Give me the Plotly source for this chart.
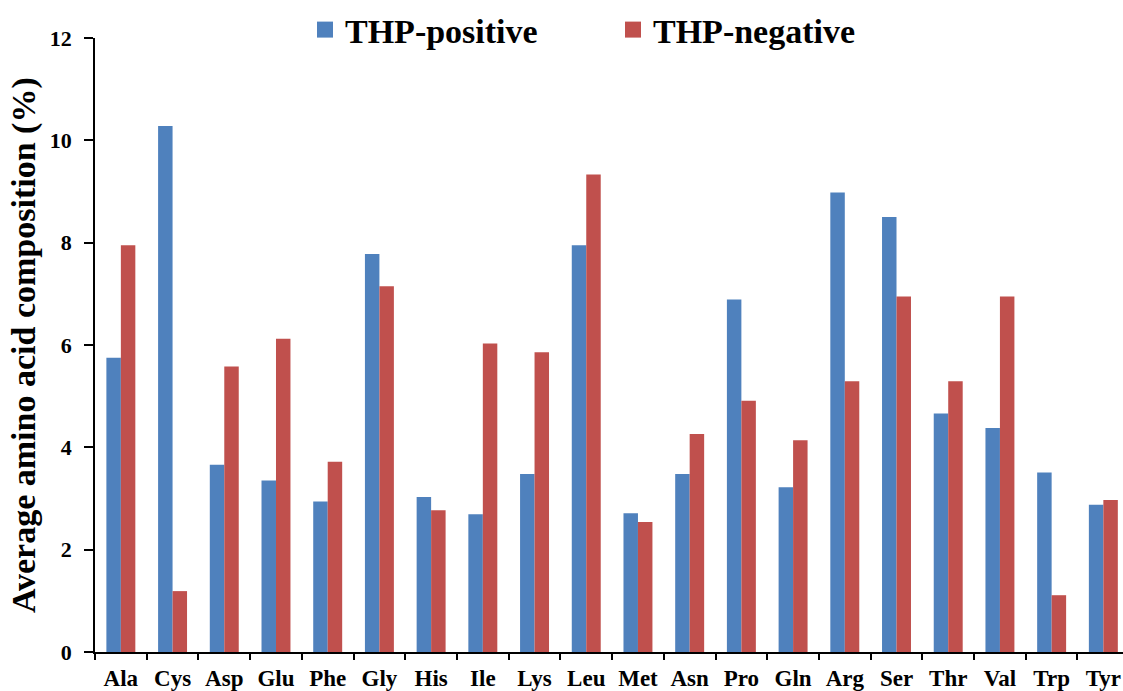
import plotly.graph_objects as go

amino_acids = ["Ala", "Cys", "Asp", "Glu", "Phe", "Gly", "His", "Ile", "Lys", "Leu",
               "Met", "Asn", "Pro", "Gln", "Arg", "Ser", "Thr", "Val", "Trp", "Tyr"]
thp_positive = [5.75, 10.28, 3.66, 3.35, 2.94, 7.78, 3.03, 2.69, 3.48, 7.95,
                2.71, 3.48, 6.89, 3.22, 8.98, 8.50, 4.66, 4.38, 3.51, 2.88]
thp_negative = [7.95, 1.19, 5.58, 6.12, 3.72, 7.15, 2.77, 6.03, 5.86, 9.33,
                2.54, 4.26, 4.91, 4.14, 5.29, 6.95, 5.29, 6.95, 1.11, 2.97]
y_ticks = [0, 2, 4, 6, 8, 10, 12]
y_title = "Average amino acid composition (%)"

BLUE = "#4F81BD"
RED = "#C0504D"
FONT = "Liberation Serif"

W, H = 1123, 691
ML, MR, MT, MB = 95, 0, 38, 39

fig = go.Figure()
fig.add_trace(go.Bar(x=amino_acids, y=thp_positive, name="THP-positive",
                     marker=dict(color=BLUE, line=dict(width=0)), showlegend=False))
fig.add_trace(go.Bar(x=amino_acids, y=thp_negative, name="THP-negative",
                     marker=dict(color=RED, line=dict(width=0)), showlegend=False))
# legend entries with larger square symbols
fig.add_trace(go.Scatter(x=[None], y=[None], mode="markers", name="THP-positive",
                         marker=dict(symbol="square", size=19, color=BLUE)))
fig.add_trace(go.Scatter(x=[None], y=[None], mode="markers", name="THP-negative",
                         marker=dict(symbol="square", size=19, color=RED)))

plot_w = W - ML - MR
plot_h = H - MT - MB

fig.update_layout(
    width=W, height=H,
    margin=dict(l=ML, r=MR, t=MT, b=MB, autoexpand=False),
    paper_bgcolor="white", plot_bgcolor="white",
    barmode="group", bargap=0.44, bargroupgap=0,
    font=dict(family=FONT, color="black", weight="bold"),
    legend=dict(
        orientation="h", xref="paper", yref="paper",
        x=(305 - ML) / plot_w, y=1 + (MT - 1) / plot_h, xanchor="left", yanchor="top",
        font=dict(family=FONT, size=34, color="black", weight="bold"),
        entrywidth=263, entrywidthmode="pixels",
        bgcolor="rgba(0,0,0,0)", itemsizing="trace",
    ),
    xaxis=dict(
        type="category", range=[-0.5, 19.38],
        showline=True, linecolor="black", linewidth=2,
        ticks="outside", tickson="boundaries", ticklen=6, tickwidth=2, tickcolor="black",
        ticklabelstandoff=4,
        tickfont=dict(family=FONT, size=23, color="black", weight="bold"),
        showgrid=False, zeroline=False, automargin=False,
    ),
    yaxis=dict(
        range=[0, 12], tickvals=y_ticks, ticktext=[str(v) for v in y_ticks],
        showline=True, linecolor="black", linewidth=1.5,
        ticks="outside", ticklen=9, tickwidth=1.5, tickcolor="black",
        ticklabelstandoff=8,
        tickfont=dict(family=FONT, size=22, color="black", weight="bold"),
        showgrid=False, zeroline=False,
        automargin=False,
    ),
    annotations=[dict(
        text=y_title, textangle=-90, showarrow=False,
        xref="paper", yref="paper", x=(24 - ML) / plot_w, y=0.5,
        xanchor="center", yanchor="middle",
        font=dict(family=FONT, size=34, color="black", weight="bold"),
    )],
)

fig.write_html("out.html", config={"displayModeBar": False},
               post_script="document.body.style.margin='0';")
